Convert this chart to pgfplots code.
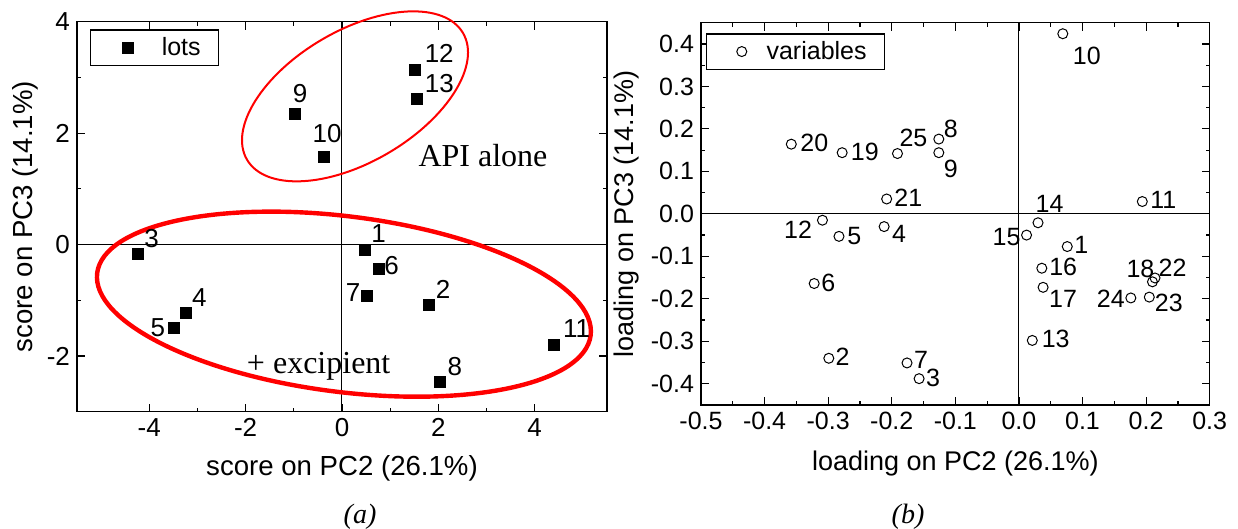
\documentclass[border=0pt]{standalone}
\usepackage{pgfplots}
\pgfplotsset{compat=1.18}
\usepackage{pgfplotstable}
\usepackage{fontspec}
\setmainfont{Liberation Sans}
\newfontfamily\timesfont{Liberation Serif}

\pgfplotstableread{
x y lab dx dy
0.47 -0.10 1 7 8.5
1.80 -1.08 2 7.2 7.7
-4.24 -0.16 3 7 7.5
-3.25 -1.23 4 7 8
-3.49 -1.49 5 -8 0
0.77 -0.43 6 6.3 1.5
0.52 -0.92 7 -7 1.5
2.03 -2.47 8 7.5 8
-0.98 2.35 9 2.7 9.8
-0.38 1.58 10 1.7 11.5
4.39 -1.80 11 11.5 8.2
1.52 3.14 12 12 8
1.55 2.62 13 11.3 7.3
}\scores

\pgfplotstableread{
x y lab dx dy
0.076 -0.077 1 7 0.7
-0.299 -0.340 2 6.9 0.8
-0.157 -0.388 3 7 0.5
-0.212 -0.030 4 7.5 -3.5
-0.283 -0.053 5 7.7 0
-0.322 -0.164 6 7.1 0.3
-0.176 -0.351 7 7 1.7
-0.126 0.176 8 6 5.3
-0.126 0.144 9 6 -8.3
0.069 0.424 10 12 -11
0.194 0.029 11 10.5 0.8
-0.309 -0.015 12 -12.2 -4.7
0.021 -0.298 13 11.7 0.8
0.030 -0.021 14 5.8 9.2
0.012 -0.050 15 -10 -1
0.036 -0.128 16 10.7 0.7
0.038 -0.173 17 10 -5.8
0.210 -0.160 18 -6 6.3
-0.278 0.144 19 11.3 0.5
-0.358 0.164 20 11.5 0.5
-0.208 0.035 21 10.8 0.8
0.214 -0.151 22 8.8 5.3
0.205 -0.196 23 9.8 -3
0.176 -0.198 24 -10 -0.5
-0.191 0.142 25 8 7.8
}\loadings

\pgfplotsset{
  common/.style={
    scale only axis, anchor=north west, clip=false,
    tick align=inside, major tick length=4pt, minor tick length=2pt,
    minor x tick num=1, minor y tick num=1,
    axis line style={black, line width=0.6pt},
    tick style={black, line width=0.6pt},
    /pgf/number format/assume math mode=true,
    legend cell align=left,
  },
}

\begin{document}
\begin{tikzpicture}
\useasboundingbox (0,0) rectangle (619pt,-264.5pt);

\begin{axis}[common,
  at={(38.5pt,-10.85pt)},
  width=265pt, height=195pt,
  xmin=-5.5, xmax=5.5, ymin=-3, ymax=4,
  xtick={-4,-2,0,2,4}, ytick={-2,0,2,4},
  tick label style={font=\fontsize{13}{15}\selectfont},
  label style={font=\fontsize{13.8}{16}\selectfont},
  xlabel={score on PC2 (26.1\%)}, ylabel={score on PC3 (14.1\%)},
  xlabel style={at={(axis description cs:0.5,-0.146)}, anchor=center},
  ylabel style={at={(axis description cs:-0.098,0.5)}, anchor=center},
  legend style={at={(0.0245,0.98)}, anchor=north west, draw=black, line width=0.6pt,
    font=\fontsize{12.5}{14}\selectfont, inner xsep=3pt, inner ysep=1.5pt},
  legend image code/.code={\path (-15.25pt,0pt) (14.75pt,0pt); \draw[#1] plot coordinates {(0pt,0pt)};},
]
\draw[black, line width=0.5pt] (axis cs:0,-3) -- (axis cs:0,4);
\draw[black, line width=0.5pt] (axis cs:-5.5,0) -- (axis cs:5.5,0);
\addplot[only marks, mark=square*, mark size=2.75pt, black,
  point meta=explicit symbolic,
  visualization depends on={\thisrow{dx} \as \dx},
  visualization depends on={\thisrow{dy} \as \dy},
  nodes near coords,
  nodes near coords style={anchor=center, xshift={\dx*1pt}, yshift={\dy*1pt},
    font=\fontsize{13}{15}\selectfont, black},
] table[x=x, y=y, meta=lab] {\scores};
\addlegendentry{lots\kern4pt}
\draw[red, line width=1pt, rotate around={30.4:(axis cs:0.27,2.66)}]
  (axis cs:0.27,2.66) ellipse [x radius=62.6pt, y radius=32.85pt];
\draw[red, line width=2.2pt, rotate around={-7.2:(axis cs:0.04,-1.07)}]
  (axis cs:0.04,-1.07) ellipse [x radius=124.35pt, y radius=43.9pt];
\node[font=\timesfont\fontsize{16}{18}\selectfont, anchor=base west, inner sep=0pt]
  at (axis cs:1.58,1.395) {API alone};
\node[font=\timesfont\fontsize{16}{18}\selectfont, anchor=base west, inner sep=0pt]
  at (axis cs:-1.98,-2.31) {+ excipient};
\end{axis}

\begin{axis}[common,
  at={(350.5pt,-11.35pt)},
  width=254.35pt, height=191.15pt,
  xmin=-0.5, xmax=0.3, ymin=-0.45, ymax=0.45,
  xtick={-0.5,-0.4,-0.3,-0.2,-0.1,0,0.1,0.2,0.3},
  ytick={-0.4,-0.3,-0.2,-0.1,0,0.1,0.2,0.3,0.4},
  /pgf/number format/fixed, /pgf/number format/fixed zerofill,
  /pgf/number format/precision=1,
  tick label style={font=\fontsize{12.5}{14}\selectfont},
  label style={font=\fontsize{13.5}{16}\selectfont},
  xlabel={loading on PC2 (26.1\%)}, ylabel={loading on PC3 (14.1\%)},
  xlabel style={at={(axis description cs:0.5,-0.1543)}, anchor=center},
  ylabel style={at={(axis description cs:-0.1474,0.5)}, anchor=center},
  legend style={at={(0.0098,0.972)}, anchor=north west, draw=black, line width=0.6pt,
    font=\fontsize{12.5}{14}\selectfont, inner xsep=3pt, inner ysep=1.5pt},
  legend image code/.code={\path (-14.35pt,0pt) (10.15pt,0pt); \draw[#1] plot coordinates {(0pt,0pt)};},
]
\draw[black, line width=0.5pt] (axis cs:0,-0.45) -- (axis cs:0,0.45);
\draw[black, line width=0.5pt] (axis cs:-0.5,0) -- (axis cs:0.3,0);
\addplot[only marks, mark=o, mark size=2.5pt, black, line width=0.5pt,
  point meta=explicit symbolic,
  visualization depends on={\thisrow{dx} \as \dx},
  visualization depends on={\thisrow{dy} \as \dy},
  nodes near coords,
  nodes near coords style={anchor=center, xshift={\dx*1pt}, yshift={\dy*1pt},
    font=\fontsize{12.5}{14}\selectfont, black},
] table[x=x, y=y, meta=lab] {\loadings};
\addlegendentry{variables\kern4pt}
\end{axis}

\node[font=\timesfont\itshape\fontsize{14}{16}\selectfont] at (180pt,-258.5pt) {(a)};
\node[font=\timesfont\itshape\fontsize{14}{16}\selectfont] at (454pt,-258.5pt) {(b)};
\end{tikzpicture}
\end{document}
